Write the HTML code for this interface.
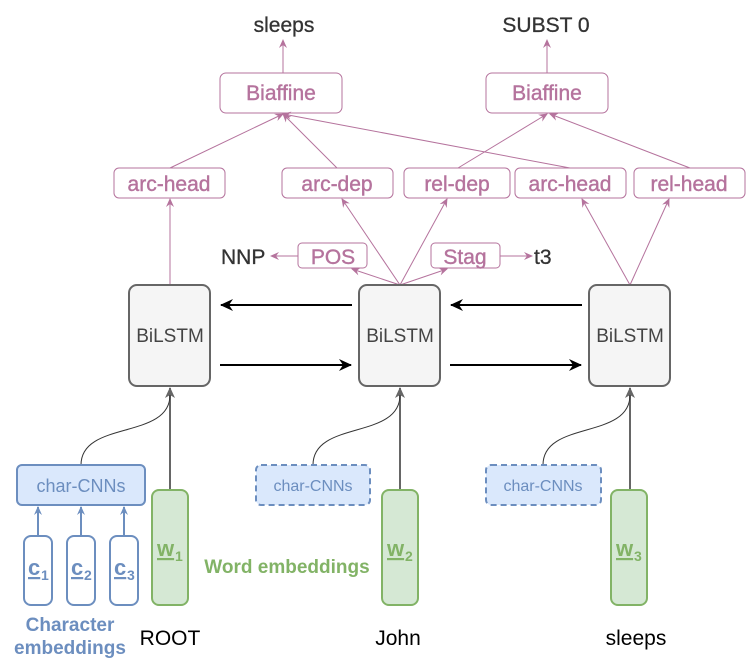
<!DOCTYPE html>
<html><head><meta charset="utf-8"><style>html,body{margin:0;padding:0;background:#fff}svg{display:block}</style></head>
<body>
<svg width="756" height="670" viewBox="0 0 756 670" xmlns="http://www.w3.org/2000/svg" font-family="Liberation Sans, Arial, sans-serif">
<defs>
<marker id="mp" markerWidth="10" markerHeight="10" refX="8" refY="5" orient="auto" markerUnits="userSpaceOnUse"><path d="M0,1 L9,5 L0,9 L3,5 Z" fill="#b5739d"/></marker>
<marker id="mk" markerWidth="14" markerHeight="14" refX="12" refY="7" orient="auto" markerUnits="userSpaceOnUse"><path d="M0,1 L13,7 L0,13 L4,7 Z" fill="#000"/></marker>
<marker id="mg" markerWidth="12" markerHeight="12" refX="10" refY="6" orient="auto" markerUnits="userSpaceOnUse"><path d="M0,1 L11,6 L0,11 L3,6 Z" fill="#666"/></marker>
<marker id="mb" markerWidth="10" markerHeight="10" refX="8" refY="5" orient="auto" markerUnits="userSpaceOnUse"><path d="M0,1 L9,5 L0,9 L3,5 Z" fill="#6c8ebf"/></marker>
</defs>
<g stroke="#b5739d" stroke-width="1" fill="none">
<line x1="283" y1="73" x2="283" y2="40" marker-end="url(#mp)"/>
<line x1="547" y1="73" x2="547" y2="40" marker-end="url(#mp)"/>
<line x1="170" y1="168" x2="283" y2="114" marker-end="url(#mp)"/>
<line x1="337" y1="168" x2="283" y2="114" marker-end="url(#mp)"/>
<line x1="570" y1="168" x2="283" y2="114" marker-end="url(#mp)"/>
<line x1="458" y1="168" x2="547" y2="114" marker-end="url(#mp)"/>
<line x1="690" y1="168" x2="550" y2="114" marker-end="url(#mp)"/>
<line x1="170" y1="285" x2="170" y2="199" marker-end="url(#mp)"/>
<line x1="400" y1="285" x2="342" y2="199" marker-end="url(#mp)"/>
<line x1="400" y1="285" x2="447" y2="199" marker-end="url(#mp)"/>
<line x1="400" y1="285" x2="352" y2="269" marker-end="url(#mp)"/>
<line x1="400" y1="285" x2="447" y2="269" marker-end="url(#mp)"/>
<line x1="630" y1="285" x2="582" y2="199" marker-end="url(#mp)"/>
<line x1="630" y1="285" x2="669" y2="199" marker-end="url(#mp)"/>
<line x1="298" y1="256" x2="271" y2="256" marker-end="url(#mp)"/>
<line x1="500" y1="256" x2="532" y2="256" marker-end="url(#mp)"/>
<rect x="220" y="73" width="122" height="40" rx="6"/>
<rect x="486" y="73" width="122" height="40" rx="6"/>
<rect x="114" y="168" width="111" height="30" rx="5"/>
<rect x="282" y="168" width="111" height="30" rx="5"/>
<rect x="404" y="168" width="106" height="30" rx="5"/>
<rect x="515" y="168" width="111" height="30" rx="5"/>
<rect x="634" y="168" width="111" height="30" rx="5"/>
<rect x="298" y="243" width="69" height="25" rx="4"/>
<rect x="431" y="243" width="69" height="25" rx="4"/>
</g>
<g fill="#b5739d" font-size="21" text-anchor="middle" stroke="#b5739d" stroke-width="0.4">
<text x="281" y="100">Biaffine</text><text x="547" y="100">Biaffine</text>
<text x="169" y="191">arc-head</text><text x="337" y="191">arc-dep</text><text x="457" y="191">rel-dep</text><text x="570" y="191">arc-head</text><text x="689" y="191">rel-head</text>
<text x="333" y="264">POS</text><text x="465" y="264">Stag</text>
</g>
<g fill="#333" font-size="21" stroke="#333" stroke-width="0.3">
<text x="284" y="32" text-anchor="middle">sleeps</text>
<text x="546" y="32" text-anchor="middle">SUBST 0</text>
<text x="221" y="264">NNP</text><text x="534" y="264">t3</text>
</g>
<g stroke="#000" stroke-width="2">
<line x1="352" y1="305" x2="221" y2="305" marker-end="url(#mk)"/>
<line x1="220" y1="365" x2="351" y2="365" marker-end="url(#mk)"/>
<line x1="582" y1="305" x2="451" y2="305" marker-end="url(#mk)"/>
<line x1="450" y1="365" x2="581" y2="365" marker-end="url(#mk)"/>
</g>
<g fill="#f5f5f5" stroke="#666" stroke-width="2">
<rect x="129" y="285" width="81" height="101" rx="8"/>
<rect x="359" y="285" width="81" height="101" rx="8"/>
<rect x="589" y="285" width="81" height="101" rx="8"/>
</g>
<g fill="#444" font-size="19" text-anchor="middle">
<text x="170" y="342">BiLSTM</text><text x="400" y="342">BiLSTM</text><text x="630" y="342">BiLSTM</text>
</g>
<g stroke="#666" stroke-width="2" fill="none">
<line x1="170" y1="490" x2="170" y2="388" marker-end="url(#mg)"/>
<line x1="400" y1="490" x2="400" y2="388" marker-end="url(#mg)"/>
<line x1="630" y1="490" x2="630" y2="388" marker-end="url(#mg)"/>
</g>
<g stroke="#333" stroke-width="1" fill="none">
<path d="M81,465 C81,420 170,440 170,395"/>
<path d="M313,465 C313,420 400,440 400,395"/>
<path d="M543,465 C543,420 630,440 630,395"/>
</g>
<g stroke="#6c8ebf" stroke-width="2" fill="#dae8fc">
<rect x="17" y="465" width="128" height="40" rx="5"/>
<rect x="256" y="465" width="114" height="40" rx="5" stroke-dasharray="6,4"/>
<rect x="486" y="465" width="115" height="40" rx="5" stroke-dasharray="6,4"/>
</g>
<g stroke="#6c8ebf" stroke-width="2" fill="none">
<line x1="38" y1="536" x2="38" y2="507" marker-end="url(#mb)"/>
<line x1="81" y1="536" x2="81" y2="507" marker-end="url(#mb)"/>
<line x1="124" y1="536" x2="124" y2="507" marker-end="url(#mb)"/>
<rect x="24" y="536" width="28" height="69" rx="7" fill="#fff"/>
<rect x="67" y="536" width="28" height="69" rx="7" fill="#fff"/>
<rect x="110" y="536" width="28" height="69" rx="7" fill="#fff"/>
</g>
<g fill="#6c8ebf" text-anchor="middle">
<text x="81" y="492" font-size="18">char-CNNs</text><text x="313" y="491" font-size="16">char-CNNs</text><text x="543" y="491" font-size="16">char-CNNs</text>
</g>
<g fill="#6c8ebf" font-weight="bold" font-size="22">
<text x="28" y="575" text-decoration="underline">c</text><text x="41" y="580" font-size="14">1</text>
<text x="71" y="575" text-decoration="underline">c</text><text x="84" y="580" font-size="14">2</text>
<text x="114" y="575" text-decoration="underline">c</text><text x="127" y="580" font-size="14">3</text>
<text x="70" y="631" text-anchor="middle" font-size="19">Character</text>
<text x="70" y="654" text-anchor="middle" font-size="19">embeddings</text>
</g>
<g fill="#d5e8d4" stroke="#82b366" stroke-width="2">
<rect x="152" y="490" width="36" height="115" rx="7"/>
<rect x="382" y="490" width="36" height="115" rx="7"/>
<rect x="611" y="490" width="36" height="115" rx="7"/>
</g>
<g fill="#82b366" font-weight="bold" font-size="22">
<text x="157" y="556" text-decoration="underline">w</text><text x="175" y="561" font-size="14">1</text>
<text x="387" y="556" text-decoration="underline">w</text><text x="405" y="561" font-size="14">2</text>
<text x="616" y="556" text-decoration="underline">w</text><text x="634" y="561" font-size="14">3</text>
<text x="287" y="573" text-anchor="middle" font-size="19">Word embeddings</text>
</g>
<g fill="#000" font-size="21" text-anchor="middle">
<text x="170" y="645">ROOT</text><text x="398" y="645">John</text><text x="636" y="645">sleeps</text>
</g>
</svg>
</body></html>
